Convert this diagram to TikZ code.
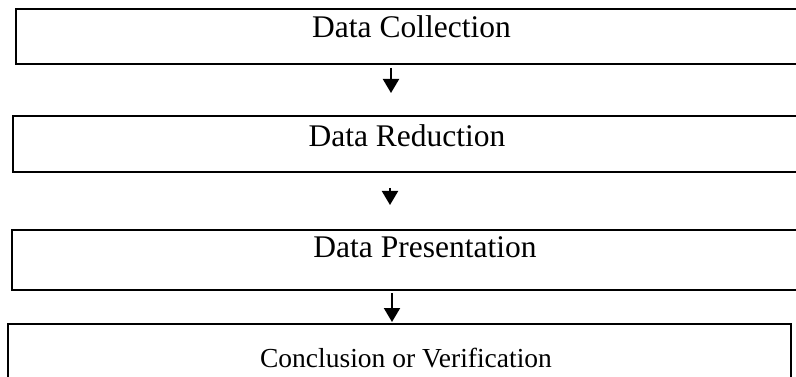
\documentclass[tikz,border=0pt]{standalone}
\usepackage{fontspec}
\setmainfont{Liberation Serif}
\usetikzlibrary{arrows.meta}
\begin{document}
\begin{tikzpicture}[x=1pt,y=-1pt,
  stagebox/.style={draw=black, line width=2.4pt, rectangle, anchor=north west,
    inner sep=0pt, outer sep=0pt},
  stagetext/.style={anchor=base, inner sep=0pt, font=\fontsize{31.5}{38}\selectfont},
  flow/.style={line width=2pt, -{Triangle[width=16pt,length=14pt]}}]
  \useasboundingbox (0,0) rectangle (796,377);
  \clip (0,0) rectangle (796,377);

  % stage boxes (the upper three run past the right margin)
  \node[stagebox, minimum width=820pt, minimum height=55pt] (b1) at (16,9) {};
  \node[stagebox, minimum width=820pt, minimum height=56pt] (b2) at (13,116) {};
  \node[stagebox, minimum width=820pt, minimum height=60pt] (b3) at (12,230) {};
  \node[stagebox, minimum width=783pt, minimum height=90pt] (b4) at (8,324) {};

  % stage labels
  \node[stagetext] (t1) at (411.5,38) {Data Collection};
  \node[stagetext] (t2) at (407,147) {Data Reduction};
  \node[stagetext] (t3) at (425,258) {Data Presentation};
  \node[stagetext, font=\fontsize{27.5}{33}\selectfont] (t4) at (406,367) {Conclusion or Verification};

  % arrow end points between the boxes
  \coordinate (a1s) at (391,68);  \coordinate (a1e) at (391,93);
  \coordinate (a2s) at (390,188); \coordinate (a2e) at (390,205);
  \coordinate (a3s) at (392,293); \coordinate (a3e) at (392,322);

  \draw[flow] (a1s) -- (a1e);
  \draw[flow] (a2s) -- (a2e);
  \draw[flow] (a3s) -- (a3e);
\end{tikzpicture}
\end{document}
